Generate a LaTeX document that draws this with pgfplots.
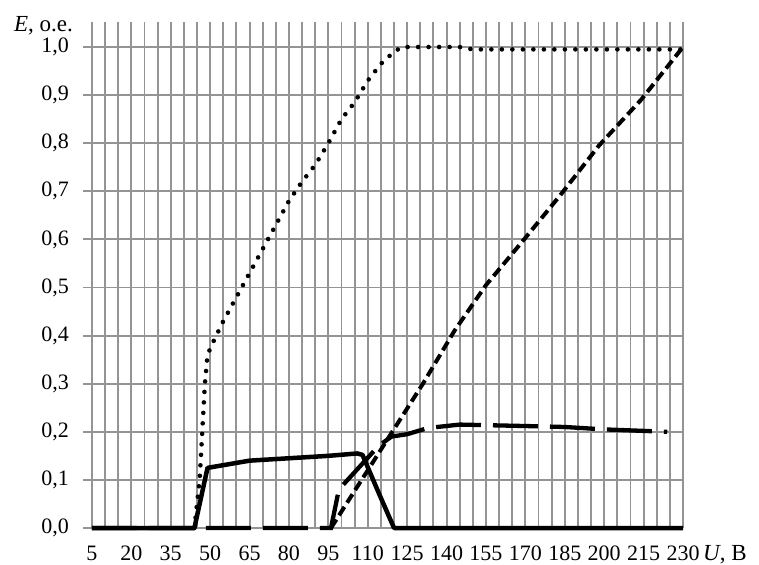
\documentclass[border=0pt]{standalone}
\usepackage{pgfplots}
\pgfplotsset{compat=1.18}
\usepackage{fontspec}
\setmainfont{Liberation Serif}
\begin{document}
\begin{tikzpicture}
\begin{axis}[
  scale only axis, width=600pt, height=506pt,
  xmin=1.6, xmax=230, ymin=0, ymax=1.052,
  clip=false,
  xtick={5,20,...,230}, minor xtick={10,15,...,225},
  ytick={0,0.1,0.2,0.3,0.4,0.5,0.6,0.7,0.8,0.9,1.0},
  grid=both,
  major grid style={color=black!42, line width=1.9pt},
  minor grid style={color=black!42, line width=1.9pt},
  axis line style={draw=none}, major tick length=0pt, minor tick length=0pt,
  /pgf/number format/assume math mode=true,
  every tick label/.append style={font=\fontsize{22}{25}\selectfont},
  xticklabel style={anchor=base, inner sep=0pt, yshift=-32pt},
  yticklabel style={anchor=east, inner sep=0pt, xshift=-14pt, /pgf/number format/.cd, fixed, fixed zerofill, precision=1, use comma},
  ylabel={\textit{E}, о.е.},
  ylabel style={at={(rel axis cs:0,1)}, anchor=base east, rotate=-90, inner sep=0pt, xshift=-10pt, yshift=-10pt, font=\fontsize{23}{26}\selectfont},
  xlabel={\textit{U}, В},
  xlabel style={at={(rel axis cs:1,0)}, anchor=base west, inner sep=0pt, xshift=20pt, yshift=-32pt, font=\fontsize{23}{26}\selectfont},
]
\coordinate (O) at (rel axis cs:0,0);
% solid
\addplot[black, line width=4.5pt, line join=round] coordinates {
(5,0)(44,0)(49,0.125)(65,0.14)(80,0.145)(95,0.15)(106,0.155)(108,0.152)(114,0.075)(120,0)(230,0)};
% long dashed
\addplot[black, line width=4.3pt, dash pattern=on 45pt off 12pt] coordinates {
(5,0)(96,0)(99,0.08)(114,0.17)(119,0.19)(125,0.195)(133,0.208)(145,0.215)(170,0.212)(185,0.21)(200,0.205)(224,0.2)};
% short dashed
\addplot[black, line width=4pt, dash pattern=on 10pt off 5pt] coordinates {
(96,0)(131,0.3)(143,0.41)(155,0.505)(168,0.59)(183,0.69)(198,0.795)(214,0.89)(230,1.0)};
% dotted
\addplot[black, line width=4.6pt, line cap=round, dash pattern=on 0pt off 10.5pt] coordinates {
(44,0)(46,0.1)(47,0.2)(48,0.3)(49,0.36)(51,0.385)(55,0.43)(60,0.48)(65,0.53)(70,0.58)(75,0.63)(80,0.68)(85,0.72)(90,0.755)(95,0.8)(100,0.85)(105,0.885)(110,0.93)(115,0.965)(120,0.99)(123,1.0)(145,1.0)(150,0.995)(230,0.995)};
\end{axis}
\path (O) ++(-83pt,-36pt) rectangle ++(759pt,564pt);
\end{tikzpicture}
\end{document}
